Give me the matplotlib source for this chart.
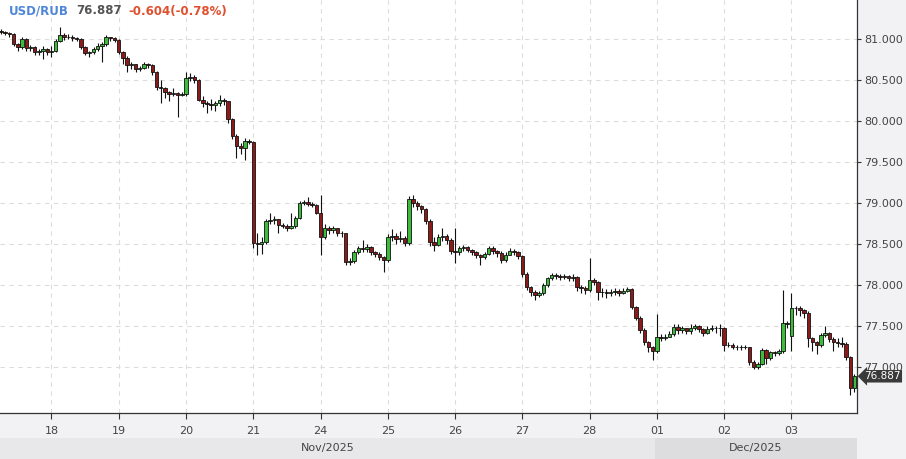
import numpy as np
import matplotlib.pyplot as plt
import matplotlib.transforms as mtransforms
from matplotlib.patches import Rectangle

# Velas USD/RUB, 16 por día (la primera fila es el final del día 17)
closes = [
    81.08, 81.07, 81.06, 80.94, 80.90, 81.00, 80.89, 80.90, 80.84, 80.85, 80.88, 80.84,
    80.86, 80.98, 81.05, 81.02, 81.03, 81.01, 81.00, 80.90, 80.83, 80.84, 80.88, 80.92, 80.94, 81.02, 81.01, 80.99,
    80.84, 80.77, 80.68, 80.69, 80.63, 80.65, 80.69, 80.68, 80.60, 80.42, 80.40, 80.35, 80.33, 80.34, 80.32, 80.33,
    80.52, 80.54, 80.50, 80.26, 80.22, 80.21, 80.19, 80.22, 80.26, 80.24, 80.02, 79.82, 79.70, 79.67, 79.76, 79.75,
    78.51, 78.50, 78.53, 78.78, 78.79, 78.80, 78.73, 78.72, 78.70, 78.72, 78.82, 79.00, 79.01, 78.99, 78.98, 78.88,
    78.58, 78.70, 78.67, 78.69, 78.64, 78.63, 78.28, 78.29, 78.40, 78.45, 78.44, 78.46, 78.40, 78.38, 78.34, 78.31,
    78.58, 78.60, 78.56, 78.57, 78.51, 79.05, 79.00, 78.96, 78.93, 78.78, 78.52, 78.49, 78.59, 78.60, 78.55, 78.41,
    78.40, 78.45, 78.46, 78.43, 78.40, 78.36, 78.34, 78.38, 78.45, 78.42, 78.39, 78.30, 78.37, 78.42, 78.40, 78.35,
    78.14, 77.97, 77.91, 77.88, 77.90, 78.00, 78.08, 78.12, 78.11, 78.10, 78.11, 78.08, 78.10, 77.97, 77.96, 77.94,
    78.06, 78.04, 77.92, 77.91, 77.90, 77.92, 77.93, 77.90, 77.93, 77.95, 77.73, 77.60, 77.45, 77.30, 77.24, 77.20,
    77.37, 77.35, 77.37, 77.40, 77.49, 77.45, 77.47, 77.44, 77.48, 77.50, 77.46, 77.42, 77.46, 77.48, 77.47, 77.48,
    77.27, 77.27, 77.25, 77.24, 77.25, 77.24, 77.06, 77.00, 77.04, 77.21, 77.11, 77.18, 77.17, 77.19, 77.54, 77.52,
    77.72, 77.72, 77.70, 77.66, 77.35, 77.30, 77.27, 77.39, 77.41, 77.34, 77.30, 77.29, 77.28, 77.12, 76.74, 76.887,
]
highs = [
    81.12, 81.10, 81.08, 81.07, 80.95, 81.02, 81.01, 80.93, 80.91, 80.88, 80.92, 80.89,
    80.92, 81.00, 81.15, 81.07, 81.06, 81.05, 81.02, 81.01, 80.92, 80.86, 80.90, 80.95, 80.96, 81.05, 81.03, 81.02,
    81.00, 80.86, 80.79, 80.72, 80.70, 80.67, 80.72, 80.71, 80.69, 80.61, 80.50, 80.42, 80.37, 80.40, 80.36, 80.35,
    80.60, 80.58, 80.56, 80.51, 80.30, 80.25, 80.27, 80.25, 80.32, 80.28, 80.25, 80.04, 79.84, 79.73, 79.79, 79.78,
    79.76, 78.63, 78.58, 78.80, 78.88, 78.84, 78.81, 78.76, 78.74, 78.88, 78.84, 79.02, 79.04, 79.07, 79.01, 78.99,
    79.10, 78.74, 78.72, 78.72, 78.70, 78.66, 78.64, 78.33, 78.43, 78.48, 78.55, 78.50, 78.47, 78.42, 78.40, 78.35,
    78.62, 78.68, 78.63, 78.66, 78.60, 79.08, 79.10, 79.02, 78.97, 78.94, 78.80, 78.58, 78.62, 78.70, 78.62, 78.57,
    78.70, 78.48, 78.49, 78.48, 78.44, 78.42, 78.38, 78.40, 78.48, 78.47, 78.43, 78.41, 78.40, 78.45, 78.44, 78.42,
    78.37, 78.16, 77.99, 77.94, 77.93, 78.02, 78.10, 78.15, 78.15, 78.13, 78.14, 78.12, 78.13, 78.11, 78.00, 77.99,
    78.33, 78.08, 78.05, 77.96, 77.95, 77.95, 77.96, 77.95, 77.96, 77.97, 77.96, 77.75, 77.62, 77.47, 77.32, 77.26,
    77.65, 77.40, 77.40, 77.44, 77.53, 77.52, 77.50, 77.48, 77.52, 77.53, 77.51, 77.47, 77.50, 77.51, 77.50, 77.53,
    77.49, 77.30, 77.29, 77.27, 77.27, 77.27, 77.25, 77.08, 77.06, 77.23, 77.22, 77.20, 77.20, 77.22, 77.94, 77.56,
    77.90, 77.75, 77.74, 77.71, 77.68, 77.37, 77.32, 77.42, 77.50, 77.43, 77.36, 77.35, 77.36, 77.30, 77.13, 76.91,
]
lows = [
    81.06, 81.05, 81.03, 80.92, 80.86, 80.88, 80.85, 80.86, 80.80, 80.81, 80.76, 80.80,
    80.78, 80.84, 80.96, 80.99, 81.00, 80.98, 80.97, 80.88, 80.80, 80.78, 80.82, 80.85, 80.72, 80.92, 80.98, 80.96,
    80.82, 80.70, 80.60, 80.64, 80.60, 80.61, 80.64, 80.65, 80.56, 80.38, 80.22, 80.28, 80.25, 80.30, 80.05, 80.30,
    80.30, 80.49, 80.46, 80.24, 80.17, 80.10, 80.14, 80.12, 80.18, 80.20, 79.98, 79.78, 79.55, 79.60, 79.52, 79.72,
    78.45, 78.37, 78.38, 78.50, 78.74, 78.75, 78.63, 78.69, 78.66, 78.68, 78.70, 78.80, 78.97, 78.96, 78.95, 78.86,
    78.37, 78.56, 78.62, 78.64, 78.60, 78.58, 78.25, 78.24, 78.27, 78.38, 78.40, 78.40, 78.36, 78.34, 78.30, 78.16,
    78.28, 78.54, 78.50, 78.53, 78.48, 78.49, 78.95, 78.92, 78.88, 78.75, 78.48, 78.42, 78.47, 78.54, 78.50, 78.38,
    78.27, 78.37, 78.42, 78.40, 78.36, 78.33, 78.24, 78.32, 78.36, 78.38, 78.34, 78.27, 78.28, 78.36, 78.36, 78.32,
    78.10, 77.94, 77.86, 77.82, 77.85, 77.88, 77.98, 78.06, 78.07, 78.06, 78.07, 78.05, 78.05, 77.93, 77.90, 77.89,
    77.92, 78.00, 77.82, 77.85, 77.84, 77.86, 77.88, 77.87, 77.89, 77.91, 77.71, 77.57, 77.42, 77.27, 77.18, 77.09,
    77.17, 77.32, 77.33, 77.36, 77.38, 77.40, 77.42, 77.40, 77.40, 77.45, 77.43, 77.38, 77.40, 77.44, 77.42, 77.38,
    77.20, 77.24, 77.22, 77.21, 77.21, 77.22, 77.03, 76.97, 76.98, 77.02, 77.04, 77.09, 77.13, 77.15, 77.17, 77.48,
    77.20, 77.64, 77.62, 77.60, 77.25, 77.20, 77.16, 77.25, 77.36, 77.30, 77.19, 77.25, 77.25, 77.08, 76.66, 76.69,
]
first_open = 81.10
open_gaps = {188: 77.38}

day_starts = [12, 28, 44, 60, 76, 92, 108, 124, 140, 156, 172, 188]
day_labels = ['18', '19', '20', '21', '24', '25', '26', '27', '28', '01', '02', '03']
month_labels = ['Nov/2025', 'Dec/2025']
last_price = 76.887
change_txt = '-0.604(-0.78%)'

closes = np.array(closes)
highs = np.array(highs)
lows = np.array(lows)
opens = np.r_[first_open, closes[:-1]]
for k, v in open_gaps.items():
    opens[k] = v
x = np.arange(len(closes))
up = closes >= opens

fig = plt.figure(figsize=(9.06, 4.59), dpi=100, facecolor='#f2f2f4')
ax = fig.add_axes([0, 46 / 459, 857 / 906, 413 / 459])
ax.set_facecolor('white')

ax.vlines(x, lows, highs, color='#111111', lw=0.8, zorder=2)
ax.bar(x[up], (closes - opens)[up], bottom=opens[up], width=0.82,
       color='#3dbb3d', edgecolor='#111111', lw=0.6, zorder=3)
ax.bar(x[~up], (closes - opens)[~up], bottom=opens[~up], width=0.82,
       color='#8c1a1a', edgecolor='#111111', lw=0.6, zorder=3)

ax.set_xlim(-0.24, 203.6)
ax.set_ylim(76.439, 81.476)

ax.yaxis.tick_right()
ax.set_yticks(np.arange(77.0, 81.01, 0.5))
ax.set_yticklabels(['%.3f' % v for v in np.arange(77.0, 81.01, 0.5)])
ax.set_xticks(day_starts)
ax.set_xticklabels(day_labels)
ax.tick_params(axis='y', direction='out', length=3, width=0.8, color='#333333',
               labelsize=8, labelcolor='#444444', pad=2)
ax.tick_params(axis='x', direction='out', length=4, width=0.8, color='#333333',
               labelsize=8, labelcolor='#444444', pad=5)

ax.grid(True, color='#dcdcdc', lw=0.8, linestyle=(0, (4, 4)), zorder=0)
ax.set_axisbelow(True)
for s in ['left', 'top']:
    ax.spines[s].set_visible(False)
for s in ['right', 'bottom']:
    ax.spines[s].set_color('#333333')
    ax.spines[s].set_linewidth(0.9)

# franja de meses
trans = mtransforms.blended_transform_factory(ax.transData, fig.transFigure)
band_h = 21 / 459
xl, xr = ax.get_xlim()
dec_start = day_starts[day_labels.index('01')] - 0.5
fig.patches.append(Rectangle((xl, 0), dec_start - xl, band_h, transform=trans,
                             facecolor='#e8e8ea', edgecolor='none'))
fig.patches.append(Rectangle((dec_start, 0), xr - dec_start, band_h, transform=trans,
                             facecolor='#dddde0', edgecolor='none'))
fig.text((xl + dec_start) / 2, band_h / 2, month_labels[0], transform=trans,
         ha='center', va='center', fontsize=8, color='#444444')
fig.text((dec_start + xr) / 2, band_h / 2, month_labels[1], transform=trans,
         ha='center', va='center', fontsize=8, color='#444444')

# etiqueta del último precio
ytrans = mtransforms.blended_transform_factory(ax.transAxes, ax.transData)
ax.text(1.0085, last_price, '%.3f' % last_price, transform=ytrans, ha='left', va='center',
        fontsize=7.5, color='white', clip_on=False, zorder=10,
        bbox=dict(boxstyle='larrow,pad=0.12', fc='#3a3a3a', ec='none'))

# título
fig.text(9 / 906, 1 - 11 / 459, 'USD/RUB', fontsize=8.5, fontweight='bold',
         color='#4f86d8', va='center', ha='left')
fig.text(76 / 906, 1 - 11 / 459, '%.3f' % last_price, fontsize=8.5, fontweight='bold',
         color='#555555', va='center', ha='left')
fig.text(128 / 906, 1 - 11 / 459, change_txt, fontsize=8.5, fontweight='bold',
         color='#e0502f', va='center', ha='left')

fig.savefig('out.png', dpi=100, facecolor=fig.get_facecolor())
